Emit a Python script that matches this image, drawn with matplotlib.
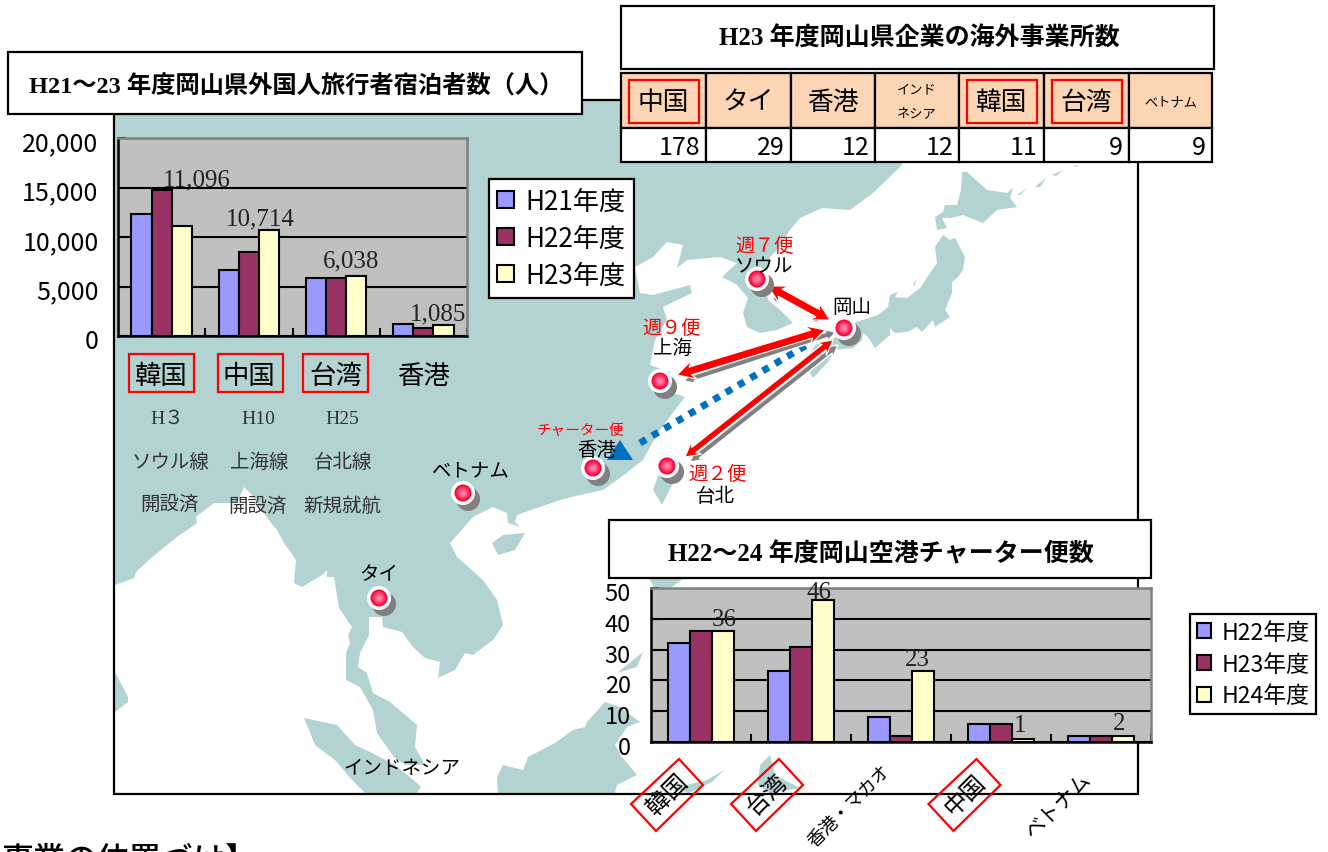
import matplotlib
matplotlib.use("Agg")
import matplotlib.pyplot as plt
from matplotlib.patches import Polygon, Rectangle, Circle
from matplotlib.transforms import ScaledTranslation
import numpy as np

# ---------- data ----------
guest_categories = ["韓国", "中国", "台湾", "香港"]
guest_series = ["H21年度", "H22年度", "H23年度"]
guest_h21 = [12320, 6700, 5860, 1210]
guest_h22 = [14750, 8500, 5860, 800]
guest_h23 = [11096, 10714, 6038, 1085]
guest_ticks = [0, 5000, 10000, 15000, 20000]
guest_ticklabels = ["0", "5,000", "10,000", "15,000", "20,000"]
guest_label_text = ["11,096", "10,714", "6,038", "1,085"]
route_year = ["H３", "H10", "H25"]
route_name = ["ソウル線", "上海線", "台北線"]
route_state = ["開設済", "開設済", "新規就航"]

office_names = ["中国", "タイ", "香港", "インド\nネシア", "韓国", "台湾", "ベトナム"]
office_counts = [178, 29, 12, 12, 11, 9, 9]

charter_categories = ["韓国", "台湾", "香港・マカオ", "中国", "ベトナム"]
charter_series = ["H22年度", "H23年度", "H24年度"]
charter_h22 = [32, 23, 8, 6, 2]
charter_h23 = [36, 31, 2, 6, 2]
charter_h24 = [36, 46, 23, 1, 2]
charter_ticks = [0, 10, 20, 30, 40, 50]

title_guest = "H21～23 年度岡山県外国人旅行者宿泊者数（人）"
title_office = "H23 年度岡山県企業の海外事業所数"
title_charter = "H22～24 年度岡山空港チャーター便数"

city_points = {"ソウル": (757, 279), "岡山": (844, 328), "上海": (660, 381), "台北": (667, 466),
               "香港": (593, 468), "ベトナム": (463, 493), "タイ": (379, 598)}

mainland = [(115,100),(902,100),(902,165),(873,193),(850,210),(822,208),(800,218),(790,230),(780,247),(770,257),
 (765,280),(768,300),(780,310),(793,323),(777,330),(760,333),(747,327),(743,313),(748,298),(737,285),(722,277),
 (737,263),(720,257),(687,260),(677,268),(683,245),(667,242),(653,257),(635,267),(640,293),(653,295),(690,285),
 (692,293),(663,307),(667,320),(655,340),(650,365),(670,372),(673,393),(685,397),(675,410),(660,430),(650,447),
 (643,460),(620,478),(603,490),(580,495),(560,500),(540,507),(517,515),(515,522),(520,527),(508,523),(507,513),
 (493,507),(473,517),(450,543),(457,557),(483,580),(497,600),(503,625),(493,640),(473,655),(465,653),(455,670),
 (438,678),(440,662),(425,658),(413,647),(402,632),(383,627),(382,617),(369,617),(369,635),(360,653),(358,667),
 (367,673),(373,693),(390,702),(417,725),(415,747),(425,765),(405,765),(394,757),(377,733),(373,710),(360,687),
 (346,680),(346,653),(350,643),(348,635),(352,627),(339,608),(334,577),(327,577),(327,570),(322,575),(302,587),
 (294,583),(296,560),(284,543),(277,530),(271,523),(252,495),(244,487),(237,503),(214,503),(196,517),(197,523),
 (177,537),(151,558),(136,572),(134,578),(115,585)]
islands = [
 [(304,718),(337,725),(355,745),(370,752),(395,765),(417,783),(421,787),(417,793),(365,793),(352,780),(335,760),(315,745)],
 [(115,672),(128,697),(128,702),(115,712)],
 [(492,543),(503,535),(525,533),(515,550),(498,555)],
 [(653,490),(662,505),(673,483),(668,468),(660,470)],
 [(497,777),(503,765),(523,770),(528,757),(555,743),(573,730),(585,727),(587,722),(605,702),(620,707),(640,722),
  (627,727),(615,745),(622,757),(637,775),(617,785),(615,793),(498,793)],
 [(617,673),(643,652),(637,667)],
 [(649,578),(684,578),(672,587),(655,589)],
 [(760,765),(770,755),(775,775),(800,788),(770,793),(758,785)],
 [(675,788),(707,780),(724,770),(712,782),(689,793)],
 [(962,172),(967,172),(987,190),(1007,193),(1013,188),(1010,198),(1017,207),(997,210),(983,223),(963,215),(950,218),
  (942,218),(947,228),(937,230),(935,217),(943,212),(945,205),(957,205),(961,190)],
 [(943,235),(950,240),(955,238),(965,257),(963,270),(958,277),(952,282),(952,293),(945,310),(950,317),(935,327),
  (933,320),(922,332),(917,327),(907,332),(895,333),(890,328),(890,335),(875,348),(868,337),(863,333),(862,340),
  (853,348),(835,350),(828,362),(813,378),(805,365),(815,345),(835,338),(833,323),(853,323),(878,315),(888,307),
  (890,295),(898,292),(895,297),(907,298),(920,288),(937,263),(935,247)],
 [(913,285),(916,279),(915,286)],
 [(1017,195),(1027,188),(1020,195)],
 [(1035,187),(1047,177),(1040,187)],
 [(1052,175),(1063,170),(1056,176)],
 [(1073,166),(1079,165),(1075,167)],
]

# (tip A, tip B, shaft width)
red_arrows = [((768,286),(830,320),8), ((677,375),(825,330),8), ((685,457),(833,340),6.5)]
gray_arrows = [((772,297),(820,322),1.5), ((684,381),(836,332),5.5), ((690,462),(838,345),5.5)]
charter_route = [(640,443),(812,342)]
charter_head = [(620,440),(607,460),(633,460)]

map_labels = [("週７便",765,245,14,"#ff0000"),("ソウル",764,266,14,"black"),("岡山",852,306,14,"black"),
 ("週９便",672,327,14,"#ff0000"),("上海",673,347,14,"black"),("週２便",718,473,14,"#ff0000"),("台北",715,496,14,"black"),
 ("香港",597,449,14,"black"),("チャーター便",581,431,10.5,"#ff0000"),("ベトナム",471,470,14,"black"),
 ("タイ",379,574,14,"black"),("インドネシア",402,768,14,"black")]

# ---------- style ----------
W, H = 1328, 853
JP = ["Noto Sans CJK JP", "DejaVu Sans"]
SERIF_JP = ["Liberation Serif", "Noto Sans CJK JP"]
plt.rcParams["font.family"] = JP
LAND = "#b2d3d2"
BAR_COLORS = ["#9999ff", "#993366", "#ffffcc"]
PLOT_BG = "#c0c0c0"
RED = "#ff0000"

fig = plt.figure(figsize=(W/100, H/100), dpi=100, facecolor="white")
bg = fig.add_axes([0, 0, 1, 1], zorder=0)
bg.set_xlim(0, W); bg.set_ylim(H-1, -1); bg.axis("off")

# map
bg.add_patch(Polygon(mainland, closed=True, fc=LAND, ec="none", zorder=1))
for isl in islands:
    bg.add_patch(Polygon(isl, closed=True, fc=LAND, ec="none", zorder=1))
bg.add_patch(Rectangle((114, 100), 1024, 694, fc="none", ec="black", lw=1.6, zorder=2))

def arrow_poly(a, b, w):
    a, b = np.array(a, float), np.array(b, float)
    u = (b-a)/np.linalg.norm(b-a); n = np.array([-u[1], u[0]])
    base = max(w, 3.5)
    hl, hw = 2.3*base, 1.25*base
    hb = hl*0.75
    return [a, a+u*hl+n*hw, a+u*hb+n*w/2, b-u*hb+n*w/2, b-u*hl+n*hw, b,
            b-u*hl-n*hw, b-u*hb-n*w/2, a+u*hb-n*w/2, a+u*hl-n*hw]

bg.plot(*zip(*charter_route), color="#0070c0", lw=5, linestyle=(0, (1, 1.05)), solid_capstyle="butt",
        dash_capstyle="butt", zorder=3)
bg.add_patch(Polygon(charter_head, closed=True, fc="#0070c0", ec="none", zorder=3))
for a, b, w in gray_arrows:
    bg.add_patch(Polygon(arrow_poly(a, b, w), closed=True, fc="#808080", ec="white", lw=1, zorder=4))
for a, b, w in red_arrows:
    bg.add_patch(Polygon(arrow_poly(a, b, w), closed=True, fc=RED, ec="white", lw=0.8, zorder=5))

for name, (x, y) in city_points.items():
    bg.add_patch(Circle((x+5, y+6), 12, fc="#808080", ec="none", zorder=6))
    bg.add_patch(Circle((x, y), 12, fc="white", ec="none", zorder=6.1))
    for r, c in zip([8.5, 7, 5.5, 4, 2.5], ["#ff0033", "#ff2050", "#ff4070", "#ff6090", "#ff80a8"]):
        bg.add_patch(Circle((x, y), r, fc=c, ec="none", zorder=6.2))

for t, x, y, s, c in map_labels:
    bg.text(x, y, t, fontsize=s, color=c, ha="center", va="center", zorder=7)

# title boxes
def title_box(x0, y0, x1, y1, text, cx, cy, size=18):
    bg.add_patch(Rectangle((x0, y0), x1-x0, y1-y0, fc="white", ec="black", lw=1.6, zorder=8))
    bg.text(cx, cy, text, fontsize=size, fontweight="bold", family=SERIF_JP, ha="center", va="center", zorder=9)

title_box(8, 52, 582, 114, title_guest, 296, 85, size=17.5)
title_box(620.5, 6, 1214, 69, title_office, 919, 38)
title_box(609, 520, 1151, 578, title_charter, 881, 553)

# office table
col_edges = [621, 706, 791, 875, 959, 1044, 1129, 1212]
for i, (nm, n) in enumerate(zip(office_names, office_counts)):
    x0, x1 = col_edges[i], col_edges[i+1]
    bg.add_patch(Rectangle((x0, 73), x1-x0, 55, fc="#fcd5b4", ec="black", lw=1.6, zorder=8))
    bg.add_patch(Rectangle((x0, 128), x1-x0, 34, fc="white", ec="black", lw=1.6, zorder=8))
    small = len(nm) > 2
    if "\n" in nm:
        a, b = nm.split("\n")
        bg.text((x0+x1)/2, 89, a, fontsize=9.5, ha="center", va="center", zorder=9)
        bg.text((x0+x1)/2, 113, b, fontsize=9.5, ha="center", va="center", zorder=9)
    else:
        bg.text((x0+x1)/2, 102, nm, fontsize=9.5 if small else 18.5, ha="center", va="center", zorder=9)
    bg.text(x1-6, 147, str(n), fontsize=18, ha="right", va="center", zorder=9)
    if nm in ("中国", "韓国", "台湾"):
        bg.add_patch(Rectangle((x0+8, 80), 70, 43, fc="none", ec=RED, lw=1.6, zorder=9))

# bottom cut-off heading
bg.text(258, 860, "事業の位置づけ】", fontsize=23, fontweight="medium", ha="right", va="center", zorder=9)

def px_axes(x0, y0, x1, y1):
    return fig.add_axes([x0/W, 1-y1/H, (x1-x0)/W, (y1-y0)/H], zorder=3)

def style_chart(ax):
    ax.set_facecolor(PLOT_BG)
    ax.set_axisbelow(True)
    ax.yaxis.grid(True, color="black", lw=1.5)
    ax.xaxis.grid(False)
    for s in ("left", "bottom"):
        ax.spines[s].set_color("black"); ax.spines[s].set_linewidth(1.8)
    for s in ("top", "right"):
        ax.spines[s].set_color("#808080"); ax.spines[s].set_linewidth(1.8)

def bars(ax, groups, labels, width):
    conts = []
    xs = np.arange(len(groups[0]))
    for j, vals in enumerate(groups):
        conts.append(ax.bar(xs+(j-1)*width, vals, width, color=BAR_COLORS[j], edgecolor="black",
                            linewidth=1.5, label=labels[j], zorder=3))
    return conts

def shift_labels(labels, dy):
    for lab in labels:
        lab.set_transform(lab.get_transform() + ScaledTranslation(0, dy/100, fig.dpi_scale_trans))

# ---------- guests chart ----------
ax1 = px_axes(118, 139, 467, 337)
style_chart(ax1)
bw1 = 0.232
c1 = bars(ax1, [guest_h21, guest_h22, guest_h23], guest_series, bw1)
ax1.set_xlim(-0.5, 3.5); ax1.set_ylim(0, 20000)
ax1.set_yticks(guest_ticks, guest_ticklabels, fontsize=18)
ax1.tick_params(axis="y", direction="in", length=6, width=1.5, pad=14)
shift_labels(ax1.get_yticklabels(), -2)
ax1.set_xticks(np.arange(4), guest_categories, fontsize=19)
ax1.tick_params(axis="x", length=0, pad=19)
ax1.set_xticks(np.arange(0.5, 3.6), minor=True)
ax1.tick_params(axis="x", which="minor", direction="in", length=6, width=1.5)
for i, (t, v, dx, dy) in enumerate(zip(guest_label_text, guest_h23, [15, -9, -5, -6], [36, 0, 5, 1])):
    ax1.annotate(t, (i+bw1, v), xytext=(dx*0.72, dy*0.72), textcoords="offset points", ha="center", va="bottom",
                 fontsize=18, family="Liberation Serif", color="#222222", zorder=5, annotation_clip=False)
ax1.legend(handles=[c[0] for c in c1], labels=guest_series, loc="upper left", bbox_to_anchor=(488.5, 179),
           bbox_transform=bg.transData, borderaxespad=0, fontsize=18.8, fancybox=False, framealpha=1,
           edgecolor="black", handlelength=0.62, handleheight=0.62, handletextpad=0.45, labelspacing=0.38,
           borderpad=0.34).get_frame().set_linewidth(1.6)

# boxes and route notes below it
label_cx = [161, 250, 335]
for x in label_cx:
    bg.add_patch(Rectangle((x-32.5, 354), 65, 38, fc="none", ec=RED, lw=1.6, zorder=7))
for t, x in zip(route_year, [167, 258, 342]):
    bg.text(x, 418, t, fontsize=14, family=SERIF_JP, color="#333333", ha="center", va="center", zorder=7)
for t, x in zip(route_name, [171, 259, 343]):
    bg.text(x, 461, t, fontsize=14, color="#333333", ha="center", va="center", zorder=7)
for t, x, y in zip(route_state, [170, 258, 342], [503, 505, 505]):
    bg.text(x, y, t, fontsize=14, color="#333333", ha="center", va="center", zorder=7)

# ---------- charter chart ----------
ax2 = px_axes(651, 589, 1151, 743)
style_chart(ax2)
bw2 = 0.222
c2 = bars(ax2, [charter_h22, charter_h23, charter_h24], charter_series, bw2)
ax2.set_xlim(-0.5, 4.5); ax2.set_ylim(0, 50)
ax2.set_yticks(charter_ticks, [str(v) for v in charter_ticks], fontsize=17)
ax2.tick_params(axis="y", direction="in", length=6, width=1.5, pad=14.5)
shift_labels(ax2.get_yticklabels(), -3)
ax2.set_xticks(np.arange(5), charter_categories, fontsize=17)
ax2.tick_params(axis="x", length=0, pad=0)
ax2.set_xticks(np.arange(0.5, 4.6), minor=True)
ax2.tick_params(axis="x", which="minor", direction="in", length=6, width=1.5)
offsets = [(-33, -52), (-33.5, -52), (-52, -64), (-36, -52), (-43, -62)]
for lab, (dx, dy), size in zip(ax2.get_xticklabels(), offsets, [17, 17, 13, 17, 15]):
    lab.set_rotation(45); lab.set_rotation_mode("anchor")
    lab.set_ha("center"); lab.set_va("center"); lab.set_fontsize(size)
    lab.set_transform(lab.get_transform() + ScaledTranslation(dx/100, dy/100, fig.dpi_scale_trans))
for i, (v, dx, dy) in enumerate(zip(charter_h24, [1, -4, -6, -3, -4], [1, -3, 1, 3, 2])):
    ax2.annotate(str(v), (i+bw2, v), xytext=(dx*0.72, dy*0.72), textcoords="offset points", ha="center", va="bottom",
                 fontsize=18, family="Liberation Serif", color="#222222", zorder=5, annotation_clip=False)
ax2.legend(handles=[c[0] for c in c2], labels=charter_series, loc="upper left", bbox_to_anchor=(1190, 614),
           bbox_transform=bg.transData, borderaxespad=0, fontsize=16.5, fancybox=False, framealpha=1,
           edgecolor="black", handlelength=0.62, handleheight=0.62, handletextpad=0.45, labelspacing=0.38,
           borderpad=0.3).get_frame().set_linewidth(1.6)

# diamonds around boxed labels
diamond = np.array([(11.5, -36), (35.5, -10), (-11.5, 36), (-36.5, 9)])
for cx in (667.5, 767.5, 965):
    bg.add_patch(Polygon(diamond + np.array([cx, 795]), closed=True, fc="none", ec=RED, lw=1.6, zorder=7))

fig.savefig("out.png", dpi=100)
